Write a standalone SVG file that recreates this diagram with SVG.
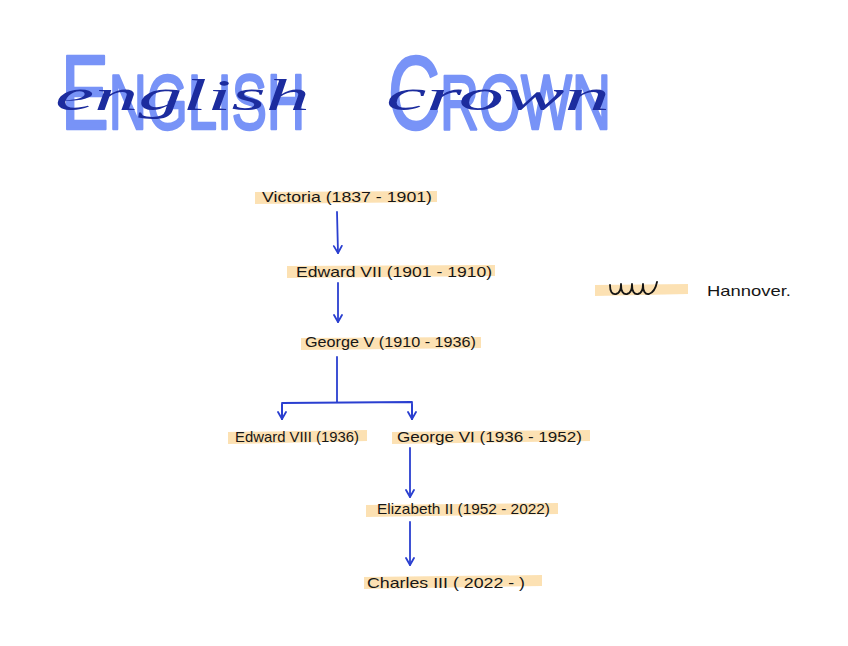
<svg xmlns="http://www.w3.org/2000/svg" width="848" height="646" viewBox="0 0 848 646">
  <style>
    .big { font-family: "Liberation Sans", Arial, sans-serif; fill: #7893f7; stroke: #7893f7; stroke-width: 2.5; stroke-linejoin: round; }
    .cur { font-family: "Liberation Serif", "DejaVu Serif", serif; font-style: italic; fill: #1c2c9e; }
    .lbl { font-family: "Liberation Sans", Arial, sans-serif; font-size: 15px; fill: #161616; }
    .hl { fill: #fbdca6; fill-opacity: 0.85; }
    .edge { fill: none; stroke: #2a3fd0; stroke-width: 1.8; stroke-linecap: round; stroke-linejoin: round; }
  </style>
  <defs>
    <marker id="arr" markerUnits="userSpaceOnUse" markerWidth="12" markerHeight="12" refX="8" refY="5" orient="auto">
      <path d="M1,1 L8,5 L1,9" fill="none" stroke="#2a3fd0" stroke-width="1.8" stroke-linecap="round" stroke-linejoin="round"/>
    </marker>
  </defs>
  <rect width="848" height="646" fill="#ffffff"/>

  <g id="title">
    <text class="big" x="61" y="129" textLength="244" lengthAdjust="spacingAndGlyphs"><tspan font-size="106">E</tspan><tspan font-size="78">NGLISH</tspan></text>
    <text class="big" x="388" y="129" textLength="223" lengthAdjust="spacingAndGlyphs"><tspan font-size="104">C</tspan><tspan font-size="78">ROWN</tspan></text>
    <text class="cur" x="55" y="110" font-size="44" textLength="255" lengthAdjust="spacingAndGlyphs">english</text>
    <text class="cur" x="386" y="110" font-size="44" textLength="224" lengthAdjust="spacingAndGlyphs">crown</text>
  </g>

  <g id="connectors">
    <path class="edge" d="M337,212 L338,253" marker-end="url(#arr)"/>
    <path class="edge" d="M338,283 L338,322" marker-end="url(#arr)"/>
    <path class="edge" d="M337,357 L337,402"/>
    <path class="edge" d="M282,419 L282,403 L412,402 L412,419" />
    <path class="edge" d="M282,405 L282,419" marker-end="url(#arr)"/>
    <path class="edge" d="M412,405 L412,419" marker-end="url(#arr)"/>
    <path class="edge" d="M410,448 L410,497" marker-end="url(#arr)"/>
    <path class="edge" d="M410,522 L410,565" marker-end="url(#arr)"/>
  </g>

  <g id="victoria">
    <polygon class="hl" points="255,192 437,191 437,202 255,204"/>
    <text class="lbl" x="262" y="202" textLength="170" lengthAdjust="spacingAndGlyphs">Victoria  (1837 - 1901)</text>
  </g>
  <g id="edward7">
    <polygon class="hl" points="287,266 495,265 495,276 287,278"/>
    <text class="lbl" x="296" y="277" textLength="196" lengthAdjust="spacingAndGlyphs">Edward VII  (1901 - 1910)</text>
  </g>
  <g id="george5">
    <polygon class="hl" points="301,338 481,337 481,348 301,350"/>
    <text class="lbl" x="305" y="347" textLength="171" lengthAdjust="spacingAndGlyphs">George V  (1910 - 1936)</text>
  </g>
  <g id="edward8">
    <polygon class="hl" points="228,432 367,430 367,441 228,444"/>
    <text class="lbl" x="235" y="442" textLength="124" lengthAdjust="spacingAndGlyphs">Edward VIII (1936)</text>
  </g>
  <g id="george6">
    <polygon class="hl" points="392,432 590,430 590,441 392,444"/>
    <text class="lbl" x="397" y="442" textLength="185" lengthAdjust="spacingAndGlyphs">George VI   (1936 - 1952)</text>
  </g>
  <g id="elizabeth2">
    <polygon class="hl" points="366,505 558,503 558,514 366,517"/>
    <text class="lbl" x="377" y="514" font-size="13" textLength="173" lengthAdjust="spacingAndGlyphs">Elizabeth II (1952 - 2022)</text>
  </g>
  <g id="charles3">
    <polygon class="hl" points="364,577 542,575 542,586 364,589"/>
    <text class="lbl" x="367" y="588" textLength="158" lengthAdjust="spacingAndGlyphs">Charles III ( 2022 -  )</text>
  </g>

  <g id="legend">
    <polygon class="hl" points="595,285 688,284 688,294 595,296"/>
    <path d="M610,285 Q610,295 616,294 Q621,293 621,284 Q621,295 627,294 Q632,293 632,284 Q632,295 638,294 Q643,293 643,284 Q643,295 649,294 Q655,292 657,282" fill="none" stroke="#141414" stroke-width="1.8" stroke-linecap="round" stroke-linejoin="round"/>
    <text class="lbl" x="707" y="296" textLength="84" lengthAdjust="spacingAndGlyphs">Hannover.</text>
  </g>
</svg>
